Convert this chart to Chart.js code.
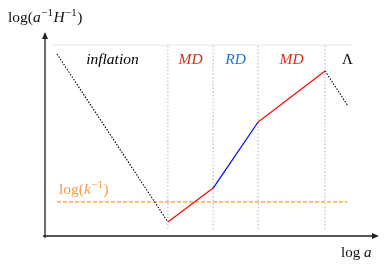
<!DOCTYPE html>
<html>
<head>
<meta charset="utf-8">
<script src="https://cdn.jsdelivr.net/npm/chart.js@4.4.1/dist/chart.umd.min.js"></script>
<style>
  body { margin: 0; background: #fff; }
</style>
</head>
<body>
<canvas id="horizonChart" width="388" height="264"></canvas>
<script>
// era boundaries in log a, and log(1/aH) at each boundary
const eraEdges = [0.36, 3.69, 5.05, 6.40, 8.41, 9.08];
const horizon = [8.92, 0.69, 2.35, 5.59, 8.09, 6.42];
const eraNames = ['inflation', 'MD', 'RD', 'MD', 'Λ'];
const eraColors = ['#000000', '#ff0000', '#0000ff', '#ff0000', '#000000'];
const eraLabelColors = ['#000000', '#d7301f', '#1f78d4', '#d7301f', '#000000'];
const kLevel = 1.67;
const topLevel = 9.36;
const topSpan = [0.21, 9.22];
const dividerBottom = 0.34;

// one dataset per era segment
const datasets = [];
for (let i = 0; i < eraNames.length; i++) {
  const dotted = eraNames[i] === 'inflation' || eraNames[i] === 'Λ';
  datasets.push({
    data: [{ x: eraEdges[i], y: horizon[i] }, { x: eraEdges[i + 1], y: horizon[i + 1] }],
    borderColor: eraColors[i],
    borderWidth: dotted ? 1.1 : 1.2,
    borderDash: dotted ? [1.5, 1.5] : [],
    order: 1
  });
}

// dotted dividers between eras
eraEdges.slice(1, 5).forEach(x => {
  datasets.push({
    data: [{ x: x, y: dividerBottom }, { x: x, y: topLevel }],
    borderColor: '#b0b0b0',
    borderWidth: 1,
    borderDash: [1.5, 2],
    order: 3
  });
});

// light top line
datasets.push({
  data: [{ x: topSpan[0], y: topLevel }, { x: topSpan[1], y: topLevel }],
  borderColor: '#e6e6e6',
  borderWidth: 1,
  order: 4
});

// comoving scale k^-1
datasets.push({
  data: [{ x: eraEdges[0], y: kLevel }, { x: eraEdges[5], y: kLevel }],
  borderColor: '#ff9a22',
  borderWidth: 1.2,
  borderDash: [4, 2],
  order: 2
});

function drawRuns(ctx, x, y, runs) {
  runs.forEach(r => {
    ctx.font = r.font;
    ctx.fillText(r.text, x, y + (r.dy || 0));
    x += ctx.measureText(r.text).width + (r.gap || 0);
  });
}

const annotations = {
  id: 'annotations',
  afterDraw(chart) {
    const ctx = chart.ctx;
    const xs = chart.scales.x, ys = chart.scales.y;
    const x0 = xs.getPixelForValue(0), y0 = ys.getPixelForValue(0);
    const top = chart.chartArea.top, right = chart.chartArea.right;

    // axes with arrow heads
    ctx.save();
    ctx.strokeStyle = '#222';
    ctx.fillStyle = '#222';
    ctx.lineWidth = 1.3;
    ctx.beginPath();
    ctx.moveTo(x0, y0 + 2);
    ctx.lineTo(x0, top + 4);
    ctx.moveTo(x0 - 2, y0);
    ctx.lineTo(right - 4, y0);
    ctx.stroke();
    ctx.beginPath();
    ctx.moveTo(x0, top);
    ctx.lineTo(x0 - 3, top + 7);
    ctx.lineTo(x0 + 3, top + 7);
    ctx.closePath();
    ctx.fill();
    ctx.beginPath();
    ctx.moveTo(right + 1, y0);
    ctx.lineTo(right - 6, y0 - 3);
    ctx.lineTo(right - 6, y0 + 3);
    ctx.closePath();
    ctx.fill();

    // era labels
    ctx.textAlign = 'center';
    ctx.textBaseline = 'alphabetic';
    const labelY = ys.getPixelForValue(topLevel) + 19;
    eraNames.forEach((name, i) => {
      let cx = (xs.getPixelForValue(eraEdges[i]) + xs.getPixelForValue(eraEdges[i + 1])) / 2;
      if (name === 'Λ') cx = xs.getPixelForValue(eraEdges[i + 1]);
      ctx.fillStyle = eraLabelColors[i];
      ctx.font = name === 'Λ' ? '15px "Liberation Serif"' : 'italic 15.5px "Liberation Serif"';
      ctx.fillText(name, cx, labelY);
    });

    // axis titles
    ctx.textAlign = 'left';
    ctx.fillStyle = '#111';
    const rm = '15.5px "Liberation Serif"', it = 'italic 15.5px "Liberation Serif"', sup = '11px "Liberation Serif"';
    drawRuns(ctx, 8, 22, [
      { text: 'log(', font: rm },
      { text: 'a', font: it, gap: 0.5 },
      { text: '−1', font: sup, dy: -6, gap: 0.5 },
      { text: 'H', font: it, gap: 0.5 },
      { text: '−1', font: sup, dy: -6, gap: 0.5 },
      { text: ')', font: rm }
    ]);
    drawRuns(ctx, 341, 257, [
      { text: 'log ', font: '15px "Liberation Serif"' },
      { text: 'a', font: 'italic 15px "Liberation Serif"' }
    ]);

    // k label
    ctx.fillStyle = '#f39c45';
    drawRuns(ctx, 59, ys.getPixelForValue(kLevel) - 8, [
      { text: 'log(', font: rm },
      { text: 'k', font: it, gap: 0.5 },
      { text: '−1', font: sup, dy: -6, gap: 0.5 },
      { text: ')', font: rm }
    ]);
    ctx.restore();
  }
};

new Chart(document.getElementById('horizonChart'), {
  type: 'line',
  data: { datasets: datasets },
  options: {
    responsive: false,
    animation: false,
    events: [],
    layout: { padding: { left: 45, right: 10, top: 32, bottom: 28 } },
    elements: { point: { radius: 0 }, line: { tension: 0 } },
    plugins: { legend: { display: false }, tooltip: { enabled: false } },
    scales: {
      x: { type: 'linear', min: 0, max: 10, display: false },
      y: { type: 'linear', min: 0, max: 10, display: false }
    }
  },
  plugins: [annotations]
});
</script>
</body>
</html>
